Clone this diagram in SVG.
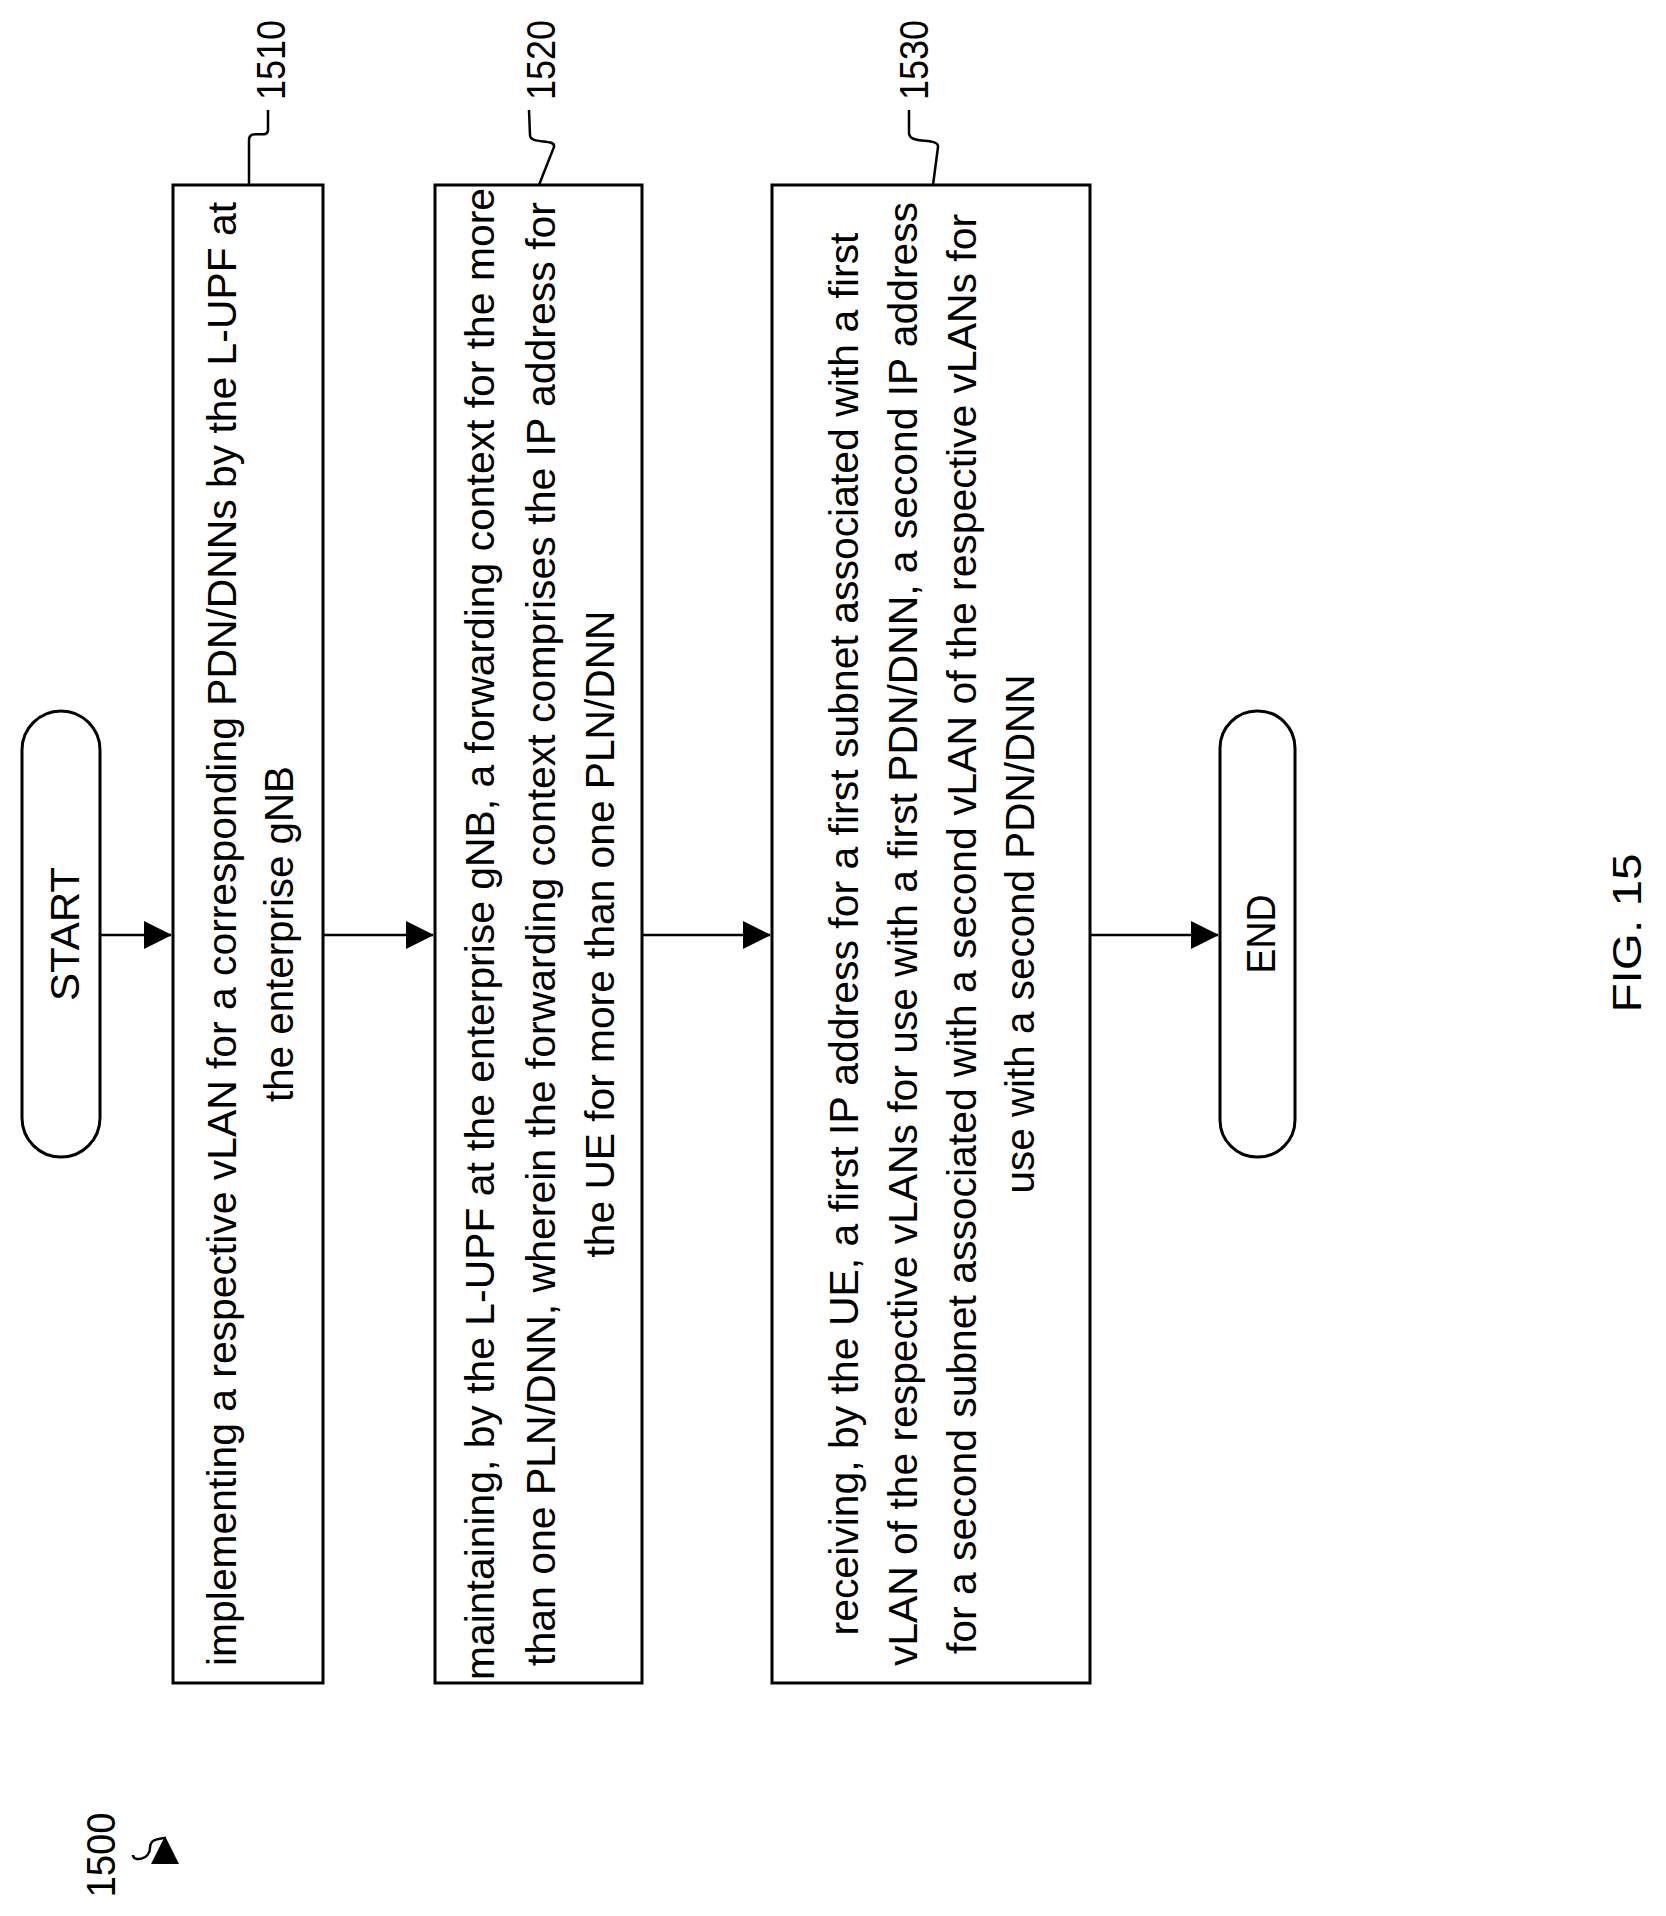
<svg xmlns="http://www.w3.org/2000/svg" width="1666" height="1916" viewBox="0 0 1666 1916">
<style>
.b{fill:#fff;stroke:#000;stroke-width:3}
.c{fill:none;stroke:#000;stroke-width:2.5}
text{font-family:"Liberation Sans",Arial,sans-serif;font-size:40px;fill:#000;text-anchor:middle}
.l{font-size:40px}
</style>
<defs><marker id="a" markerWidth="12" markerHeight="10" refX="11" refY="5" orient="auto" markerUnits="userSpaceOnUse" viewBox="0 0 12 10"><path d="M0,0L12,5L0,10z" fill="#000"/></marker>
<marker id="a2" markerWidth="28" markerHeight="28" refX="27" refY="14" orient="auto" markerUnits="userSpaceOnUse" viewBox="0 0 28 28"><path d="M0,0L28,14L0,28z" fill="#000"/></marker></defs>
<g id="connectors">
<path class="c" d="M100,935H171" marker-end="url(#a2)"/>
<path class="c" d="M323,935H433" marker-end="url(#a2)"/>
<path class="c" d="M642,935H770" marker-end="url(#a2)"/>
<path class="c" d="M1090,935H1218" marker-end="url(#a2)"/>
<path class="c" d="M249,185V140C249,128 268,140 268,130V110"/>
<path class="c" d="M539,185L554,147C556,138 530,145 530,135L529,110"/>
<path class="c" d="M933,185L938,147C939,137 909,145 909,133V110"/>
<path class="c" d="M133,1855C133,1862 150,1860 150,1848S165,1840 165,1837" marker-end="url(#a2)"/>
</g>
<g id="start"><rect class="b" x="22" y="711" width="78" height="446" rx="39"/><text transform="translate(79,934) rotate(-90)" font-size="42" textLength="134" lengthAdjust="spacingAndGlyphs">START</text></g>
<g id="n1510"><rect class="b" x="173" y="185" width="150" height="1498"/>
<text transform="translate(236,934) rotate(-90)" textLength="1464" lengthAdjust="spacingAndGlyphs">implementing a respective vLAN for a corresponding PDN/DNNs by the L-UPF at</text>
<text transform="translate(293,934) rotate(-90)" textLength="336" lengthAdjust="spacingAndGlyphs">the enterprise gNB</text>
<text class="l" transform="translate(285,60) rotate(-90)" textLength="80" lengthAdjust="spacingAndGlyphs">1510</text></g>
<g id="n1520"><rect class="b" x="435" y="185" width="207" height="1498"/>
<text transform="translate(494,934) rotate(-90)" textLength="1492" lengthAdjust="spacingAndGlyphs">maintaining, by the L-UPF at the enterprise gNB, a forwarding context for the more</text>
<text transform="translate(555,934) rotate(-90)" textLength="1464" lengthAdjust="spacingAndGlyphs">than one PLN/DNN, wherein the forwarding context comprises the IP address for</text>
<text transform="translate(614,934) rotate(-90)" textLength="647" lengthAdjust="spacingAndGlyphs">the UE for more than one PLN/DNN</text>
<text class="l" transform="translate(555,60) rotate(-90)" textLength="80" lengthAdjust="spacingAndGlyphs">1520</text></g>
<g id="n1530"><rect class="b" x="772" y="185" width="318" height="1498"/>
<text transform="translate(858,934) rotate(-90)" textLength="1403" lengthAdjust="spacingAndGlyphs">receiving, by the UE, a first IP address for a first subnet associated with a first</text>
<text transform="translate(917,934) rotate(-90)" textLength="1464" lengthAdjust="spacingAndGlyphs">vLAN of the respective vLANs for use with a first PDN/DNN, a second IP address</text>
<text transform="translate(976,934) rotate(-90)" textLength="1440" lengthAdjust="spacingAndGlyphs">for a second subnet associated with a second vLAN of the respective vLANs for</text>
<text transform="translate(1034,934) rotate(-90)" textLength="519" lengthAdjust="spacingAndGlyphs">use with a second PDN/DNN</text>
<text class="l" transform="translate(928,60) rotate(-90)" textLength="80" lengthAdjust="spacingAndGlyphs">1530</text></g>
<g id="end"><rect class="b" x="1220" y="711" width="75" height="446" rx="37"/><text transform="translate(1275,934) rotate(-90)" font-size="42" textLength="79" lengthAdjust="spacingAndGlyphs">END</text></g>
<g id="fig"><text transform="translate(1641,933) rotate(-90)" font-size="52" textLength="159" lengthAdjust="spacingAndGlyphs">FIG. 15</text></g>
<g id="ref1500"><text transform="translate(115,1855) rotate(-90)" textLength="85" lengthAdjust="spacingAndGlyphs">1500</text></g>
</svg>
